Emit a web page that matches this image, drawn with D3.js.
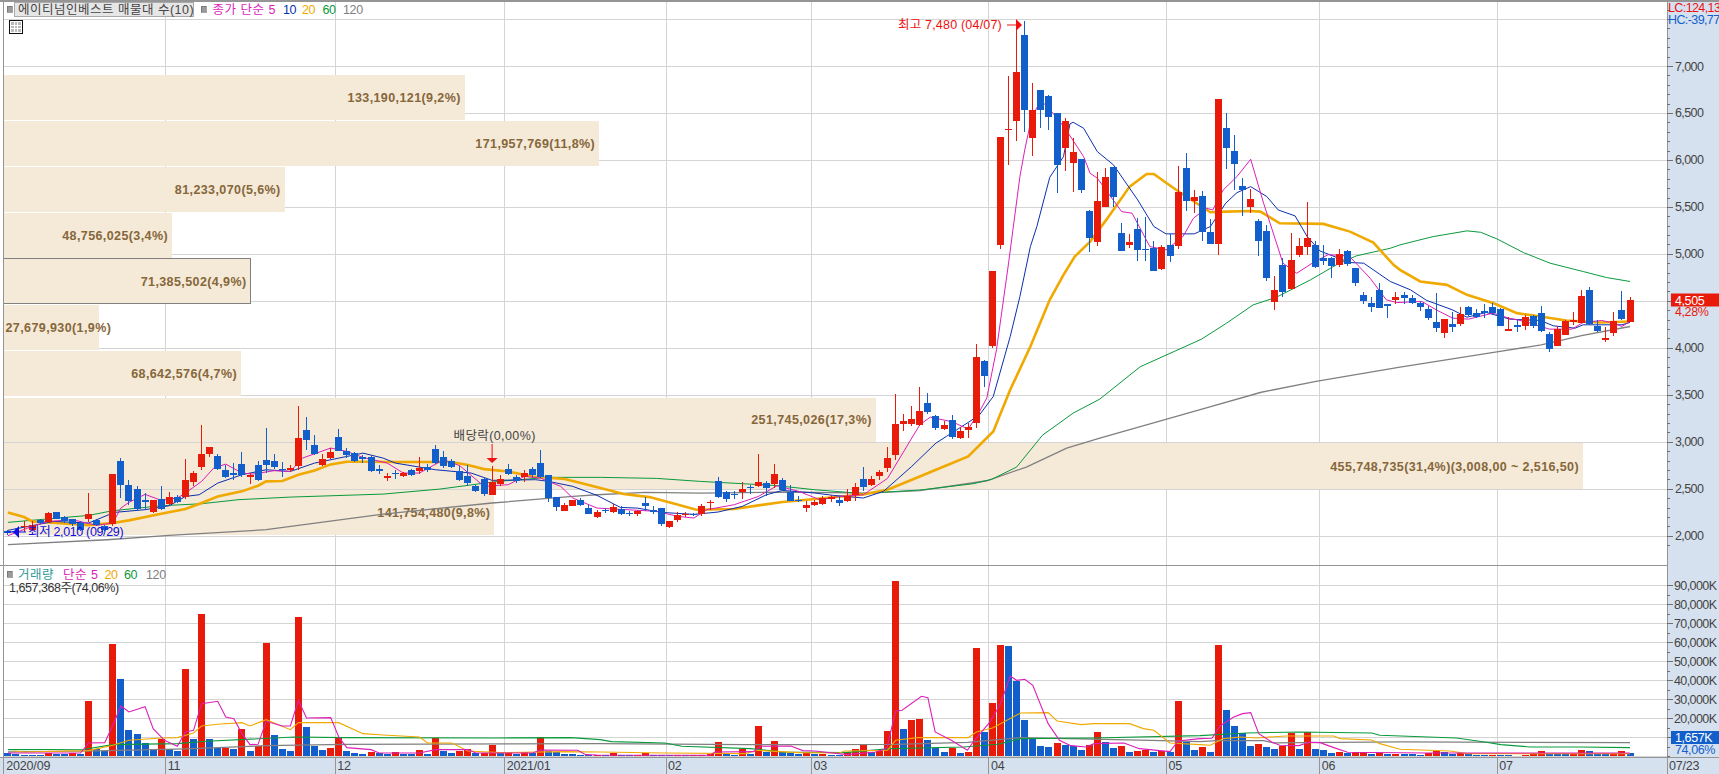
<!DOCTYPE html>
<html lang="ko"><head><meta charset="utf-8">
<style>
html,body{margin:0;padding:0;background:#fff;overflow:hidden}
svg{display:block}
text{font-family:"Liberation Sans","Noto Sans CJK KR",sans-serif;font-size:12.5px;letter-spacing:-.35px}
.tick text{fill:#444}
</style>
<script src="https://cdn.jsdelivr.net/npm/d3@7/dist/d3.min.js"></script>
</head><body><svg id="c" width="1719" height="774"></svg>
<script>
const opens=[2045,2050,2090,2065,2170,2145,2252,2199,2177,2135,2181,2170,2100,2128,2798,2543,2496,2383,2248,2394,2333,2411,2408,2567,2727,2865,2851,2702,2670,2766,2624,2755,2809,2798,2713,2695,2745,3128,2968,2755,2830,3053,2904,2880,2833,2837,2713,2613,2663,2631,2695,2684,2730,2922,2837,2798,2692,2638,2525,2603,2436,2553,2713,2624,2621,2713,2773,2649,2408,2266,2319,2383,2298,2199,2273,2248,2284,2238,2227,2351,2277,2298,2096,2163,2223,2231,2231,2344,2585,2461,2447,2461,2521,2532,2560,2553,2596,2461,2376,2298,2330,2340,2390,2383,2365,2429,2606,2543,2638,2716,2855,3184,3184,3174,3415,3277,3138,3234,3035,3121,3195,3862,4024,5096,6320,6415,7330,6237,6745,6681,6496,6131,5972,6011,5457,5131,5503,5925,5223,5096,5266,5053,5064,4840,5096,5085,5915,5564,5617,5234,5106,6340,6096,5723,5500,5351,5245,4489,4883,4628,4989,5078,5096,4957,4957,4883,5032,4851,4564,4479,4617,4468,4511,4564,4532,4479,4415,4276,4159,4255,4255,4436,4372,4394,4436,4415,4184,4245,4234,4340,4372,4149,4021,4138,4276,4266,4617,4234,4078,4159,4404,4276];
const closes=[2030,2035,2100,2115,2130,2245,2181,2152,2128,2057,2231,2110,2057,2660,2543,2365,2284,2355,2376,2284,2411,2355,2596,2670,2872,2943,2709,2621,2649,2649,2649,2596,2755,2731,2706,2723,3043,3021,2872,2819,2894,2904,2855,2791,2812,2691,2684,2638,2652,2663,2649,2723,2699,2777,2745,2727,2596,2560,2472,2443,2571,2606,2660,2578,2670,2642,2621,2401,2301,2330,2383,2326,2234,2255,2266,2309,2227,2231,2262,2319,2248,2121,2160,2223,2231,2216,2319,2362,2415,2387,2429,2500,2504,2574,2504,2660,2486,2365,2369,2330,2362,2397,2408,2351,2426,2518,2514,2606,2681,2830,3192,3223,3245,3330,3319,3149,3181,3053,3117,3160,3904,3705,4819,6245,6330,6936,6532,6532,6532,6461,5950,6415,6085,5681,5174,5564,5819,5610,5035,5128,5046,5046,4823,5074,4982,5660,5564,5606,5234,5110,6649,6128,5957,5681,5585,5138,4748,4617,4596,4936,5085,5170,4865,4929,4872,5000,4894,4695,4500,4436,4426,4447,4542,4532,4479,4436,4319,4213,4308,4223,4362,4351,4330,4375,4372,4234,4202,4223,4330,4234,4181,3989,4202,4287,4298,4553,4255,4181,4106,4287,4308,4505];
const highs=[2060,2085,2160,2155,2175,2250,2255,2213,2177,2153,2454,2177,2117,2660,2826,2596,2532,2454,2383,2532,2465,2436,2819,2684,3181,2943,2872,2755,2773,2887,2667,2791,3145,2872,2780,2755,3383,3262,3074,2872,2933,3138,2933,2887,2862,2851,2748,2667,2702,2674,2709,2837,2766,2968,2897,2816,2738,2755,2543,2613,2745,2649,2766,2649,2695,2727,2915,2649,2408,2348,2383,2401,2330,2277,2294,2340,2319,2262,2277,2408,2312,2298,2160,2248,2255,2241,2340,2383,2624,2479,2479,2574,2539,2872,2578,2766,2613,2543,2418,2372,2383,2418,2436,2418,2500,2560,2731,2631,2702,2943,3511,3298,3383,3585,3521,3287,3223,3287,3156,3199,4042,3872,4819,6245,6894,7436,7480,6815,6745,6691,6496,6443,6230,6011,5468,5869,5911,5925,5326,5213,5379,5390,5138,5096,5213,5936,6071,5681,5670,5369,6649,6500,6266,5808,5691,5372,5308,4766,4954,5223,5170,5553,5138,5096,4971,5053,5043,4851,4596,4542,4691,4468,4596,4596,4564,4500,4447,4585,4308,4383,4436,4447,4415,4468,4479,4425,4330,4298,4351,4351,4447,4170,4234,4298,4383,4617,4649,4298,4223,4383,4606,4540];
const lows=[2010,2020,2040,2045,2120,2135,2180,2135,2100,2046,2142,2100,2046,2100,2401,2330,2259,2277,2241,2277,2330,2348,2390,2532,2702,2837,2702,2614,2596,2624,2553,2578,2667,2709,2621,2674,2702,2915,2862,2745,2816,2897,2826,2780,2773,2677,2660,2578,2606,2624,2638,2660,2677,2766,2720,2720,2578,2532,2465,2426,2436,2525,2649,2560,2567,2624,2614,2358,2259,2259,2319,2312,2234,2184,2241,2241,2223,2213,2206,2259,2234,2106,2078,2142,2199,2206,2206,2277,2397,2362,2390,2390,2447,2518,2418,2504,2472,2365,2355,2248,2312,2326,2355,2312,2362,2365,2472,2525,2589,2674,2801,3110,3163,3163,3291,3121,3121,3025,3032,3043,3142,3588,4003,5053,5947,6202,6294,6046,6344,6319,5645,5883,5663,5652,5025,5085,5503,5503,5035,5067,4929,4929,4823,4830,4918,5053,5461,5440,5142,5110,4989,5904,5681,5408,5440,4979,4713,4404,4546,4628,4971,4989,4854,4883,4745,4862,4875,4660,4468,4383,4426,4319,4468,4468,4468,4394,4298,4170,4106,4170,4234,4340,4319,4319,4362,4234,4181,4170,4191,4213,4170,3957,4021,4138,4245,4266,4245,4170,4064,4128,4298,4276];
const volumes=[1750,1050,880,530,530,1580,1400,1230,1750,1230,28940,4030,2630,58930,40520,13680,11580,6840,3510,8950,4030,2630,45780,8950,74720,8950,4210,4560,3680,14210,2630,5260,59460,11050,3680,2630,73140,15260,5260,3160,4210,9470,2630,1580,1400,2100,1580,1230,2100,1230,1050,3160,1230,9650,2630,1580,2630,3680,1580,1930,5790,1580,2280,1050,2280,1580,10000,2630,2100,1050,1000,880,700,880,530,1750,700,530,700,1750,880,700,530,700,600,700,880,1050,7370,1050,880,3860,1230,15790,2280,7890,2280,1580,1050,1580,1050,1400,700,530,2100,3680,5790,2460,2810,13160,92090,14210,18940,19470,8420,4560,2280,4210,1930,2100,56830,12630,27890,58410,57880,39470,18940,9470,5260,4740,6840,5790,5610,3160,5790,12630,7370,4210,5260,2100,2630,3510,2280,2630,2280,28940,7720,3160,4740,2100,58410,24210,15790,12100,5260,6310,4740,3680,5260,12100,3680,12630,3680,3160,1580,2100,1580,2100,2190,1230,1930,1050,1400,1230,1140,700,1580,2630,2100,1230,1750,1050,880,700,880,700,530,350,700,1050,2630,1230,1140,1050,1580,3160,2980,1230,1050,1580,2630,1657];

const ma5=[[0,2000],[3,2100],[5,2152],[8,2170],[11,2110],[13,2135],[14,2294],[15,2355],[17,2440],[19,2376],[21,2401],[22,2454],[24,2578],[25.5,2720],[27,2762],[29,2667],[30.3,2656],[33,2692],[35,2684],[36.5,2826],[40,2933],[42,2897],[44,2833],[47,2773],[49,2667],[51,2667],[54,2809],[56,2745],[59,2525],[62,2543],[64,2631],[66,2613],[68.5,2525],[70,2401],[73,2294],[77.5,2273],[80.4,2259],[83,2206],[85,2188],[86.6,2277],[90,2330],[93,2418],[95.3,2532],[98,2472],[100.6,2383],[103,2418],[106,2436],[109,2610],[113,3181],[114.3,3262],[117,3213],[119,3135],[120.4,3322],[121.3,3466],[122.5,3979],[124,4904],[125.4,5822],[126,6106],[126.7,6390],[127.5,6560],[128.5,6596],[129.5,6496],[131,6337],[133.3,6035],[134.1,5858],[135,5805],[138,5450],[139.3,5433],[141.5,5078],[143.5,5042],[145.6,5184],[146.9,5379],[148.5,5486],[149.3,5468],[150.6,5681],[152.3,5823],[154,6007],[155.6,5539],[158,4901],[159.7,4794],[161.7,4905],[163.6,4992],[166.2,4977],[168.8,4741],[170.8,4511],[172.1,4482],[175.2,4493],[177,4404],[179,4316],[181,4305],[184,4369],[186,4316],[188,4280],[191,4199],[193.8,4199],[195.2,4270],[197.5,4291],[199,4262],[200,4227],[201,4280]];
const ma10=[[0,2057],[5.7,2152],[10,2135],[13.2,2248],[17,2277],[20,2319],[22,2418],[23.7,2436],[26,2560],[29,2649],[32,2702],[35,2684],[38,2773],[41,2826],[44,2879],[46.5,2826],[48,2773],[53,2702],[57.4,2667],[60,2589],[65.4,2596],[67,2578],[70,2525],[73,2429],[75.9,2301],[78,2294],[81,2248],[85,2227],[88,2252],[91,2312],[94,2436],[96,2482],[100,2454],[102.3,2429],[106,2401],[108.5,2472],[112,2738],[115,2986],[116.3,3057],[119,3206],[120.4,3287],[122.1,3482],[124.2,4120],[125.4,4546],[126.7,5078],[127.5,5291],[129.1,5815],[130.8,6035],[131.6,6383],[132,6401],[133.3,6337],[135,6088],[137,5947],[140,5574],[142,5291],[143.5,5213],[147,5213],[149,5291],[150.9,5539],[152.3,5652],[154,5716],[156,5610],[157.4,5468],[159.5,5404],[161,5184],[162.6,5030],[166.3,4908],[168,4901],[171.3,4706],[173.8,4617],[175.8,4505],[179,4404],[180.8,4326],[183.2,4376],[186.1,4305],[189.9,4291],[191.5,4234],[194.2,4209],[195.2,4245],[197.5,4245],[200,4245],[201,4270]];
const ma20=[[0,2248],[2,2199],[3,2152],[6,2135],[10,2113],[13,2135],[15,2163],[19,2234],[22,2284],[24,2348],[26,2418],[29,2472],[31,2532],[32,2578],[34,2582],[36,2649],[38,2695],[40,2759],[42,2787],[45,2787],[47,2784],[53,2784],[55,2784],[57,2752],[59,2709],[62,2684],[65,2631],[69,2603],[71,2560],[73.4,2507],[76.3,2443],[79.5,2411],[82.5,2344],[85.3,2277],[90,2284],[93,2323],[96,2358],[100,2390],[106,2440],[109,2489],[113,2631],[115,2702],[119,2844],[122.1,3110],[124.2,3553],[126.7,4014],[129.1,4511],[130.8,4776],[132.2,4972],[134.1,5131],[136.1,5362],[139,5716],[141.1,5851],[142,5851],[143.6,5752],[145.2,5656],[147.3,5539],[149,5443],[151,5450],[153.9,5457],[155.2,5450],[157.6,5326],[163,5319],[166.3,5237],[169.2,5120],[171.7,4883],[172.5,4830],[175,4706],[178.3,4670],[180.8,4564],[184.1,4475],[187,4369],[189.9,4333],[193.1,4291],[197.3,4270],[201,4280]];
const ma60=[[0,2142],[10,2216],[13,2266],[19,2319],[24,2340],[28.5,2383],[35,2411],[46.5,2443],[53.5,2496],[60.7,2578],[67,2621],[73.4,2621],[80.4,2610],[85.8,2578],[95,2535],[100,2489],[105.8,2450],[113,2486],[119.6,2553],[121.9,2600],[125,2731],[128.2,3070],[132,3305],[135.3,3454],[140.3,3798],[147.9,4092],[151,4262],[154.3,4457],[157.2,4539],[161.4,4723],[164.6,4883],[167.1,4979],[171.3,5060],[172.5,5096],[176.6,5184],[180.8,5245],[182.5,5230],[184.5,5160],[187.8,5014],[191.1,4901],[195.2,4812],[198.1,4748],[201,4706]];
const ma120=[[0,1904],[12.3,1957],[20,2004],[32,2064],[46.5,2230],[60,2348],[70,2418],[73,2436],[79,2461],[85.8,2454],[96.5,2465],[106.5,2454],[113,2479],[121.3,2585],[126.2,2731],[131.2,2933],[135.3,3039],[148.5,3362],[155.3,3527],[162.1,3642],[172.5,3794],[184.5,3957],[190,4032],[195,4131],[201,4227]];

const vma5=[[0,1750],[9,1750],[10,7020],[12,7190],[13,16310],[14,26490],[15,23330],[17,26130],[18,14560],[19.4,8420],[21,5260],[22,12800],[23,13680],[24,27710],[26,28940],[27,20700],[28,19820],[29,11930],[30,6140],[31,6310],[32,18420],[34,15960],[35,15960],[36,29470],[37,20170],[40,20350],[41,10170],[42,4560],[45,3510],[46,1750],[51,1750],[53,3510],[57,3510],[58,1750],[65,1750],[66,3330],[70.6,3160],[71.6,880],[73,700],[87,530],[87.6,2280],[92.4,2460],[93.3,5260],[97,5440],[98.5,2980],[100,2810],[104,880],[107.5,2280],[108.9,4030],[110,23850],[110.8,24200],[113.2,31570],[114,30870],[114.9,12800],[116.9,8420],[118.9,3160],[119.6,7540],[121.7,18070],[123,27710],[124.2,42270],[125,39990],[126,40520],[127,37360],[128.9,17190],[130.3,8420],[131.7,5610],[133.6,4910],[134.6,6670],[138.3,7020],[140.2,4030],[144,2460],[145,8070],[147.7,9300],[149.2,9470],[150.2,15960],[151.9,20700],[153,22450],[154,22980],[155,11930],[156.6,7540],[157.6,5790],[160,5610],[161.2,7370],[162.6,7190],[164.3,4560],[166,2100],[175.8,1750],[201,1750]];
const vma20=[[0.7,2810],[2,2280],[10,2980],[13,5790],[15,8420],[19,9650],[21,9820],[23,12280],[24,15960],[26,16840],[29,17720],[30,15960],[32,19290],[35,14030],[36,17720],[41,17720],[44,11930],[46.5,11230],[51,10170],[52,7020],[55,7020],[57,2810],[61,1930],[69,2460],[73.4,2280],[81.4,1750],[91.4,1400],[92.8,3160],[98,1930],[103,1750],[103.7,2810],[109,3160],[110,8420],[112.7,9820],[119,9820],[120,12800],[122,14910],[125.5,22800],[128.9,22980],[130,18590],[133,16660],[134.6,17190],[139,17190],[140.7,14560],[142,13680],[144,7020],[147.7,6140],[149,5790],[150.6,9300],[152.7,10170],[154.7,9650],[158.4,10700],[164.3,10700],[165.1,9300],[169,8600],[170,6670],[172.5,3680],[178.7,2810],[180.8,1400],[201,1400]];
const vma60=[[0,3510],[9.5,3680],[13,6140],[21,6670],[24.6,7890],[35.5,10170],[41.7,9820],[60.7,9650],[69.7,9820],[73.4,8770],[74.8,7720],[81.4,7020],[83.5,5260],[92,4030],[96,2280],[103.7,1930],[109.4,4030],[118.4,4910],[122.7,6310],[125.5,9300],[134.5,9650],[147.7,10870],[153.5,12280],[160,12800],[169,12280],[170,11050],[179.5,9650],[183,7540],[185,6140],[188.6,4910],[194.8,4910],[201,4560]];
const vma120=[[0,2280],[11,2810],[22,3860],[32,5610],[41.7,6310],[73.4,6670],[91.4,6140],[98.5,6140],[110,6310],[118.9,7370],[125.5,9820],[141.6,8420],[147.7,7720],[149.8,8240],[155.6,8240],[156.8,7020],[172.5,7540],[201,7190]];

const bandVolumes=[133190121,171957769,81233070,48756025,71385502,27679930,68642576,251745026,455748735,141754480];
const bandLabels=["133,190,121(9,2%)","171,957,769(11,8%)","81,233,070(5,6%)","48,756,025(3,4%)","71,385,502(4,9%)","27,679,930(1,9%)","68,642,576(4,7%)","251,745,026(17,3%)","455,748,735(31,4%)(3,008,00 ~ 2,516,50)","141,754,480(9,8%)"];
const bandHigh=[6904,6415,5926,5437,4947,4458,3969,3470,2982,2489];
const bandLow=[6425,5936,5447,4957,4468,3979,3489,3000,2500,2005];
const highlightBand=4;
const priceTicks=[2000,2500,3000,3500,4000,5000,5500,6000,6500,7000];
const priceGrid=priceTicks.concat([4500,7500]);
const volumeTicks=[10000,20000,30000,40000,50000,60000,70000,80000,90000];
const monthIndex=[0,20,41,62,82,100,122,144,163,185];
const monthLabels=["2020/09","11","12","2021/01","02","03","04","05","06","07"];

const RED="#e81a0a",BLUE="#125fcc",PINK="#dc1fb8",NAVY="#0b2fb0",ORANGE="#f0a900",GREEN="#0a9a3c",GREY="#808080",AXBG="#d6e1ef",GRID="#d4d4d4",FRAME="#959595",BROWN="#85673a",TEAL="#2f9a9a";
const L=3,R=1667,W=1719,H=774,SEP=565,BOT=757;

const svg=d3.select("#c");
const x=d3.scaleLinear().domain([0,201]).range([7.9,1630]);
const y=d3.scaleLinear().domain([2000,7000]).range([535.7,66]);
const yv=d3.scaleLinear().domain([0,90000]).range([756.3,585.3]);
const xb=d3.scaleLinear().domain([0,455748735]).range([L,1583]);
const step=x(1)-x(0);
const slot=i=>Math.round(x(i)-step/2);
const defs=svg.append("defs");
defs.append("clipPath").attr("id","pp").append("rect").attr("x",L).attr("y",0).attr("width",R-L).attr("height",SEP);
defs.append("clipPath").attr("id","vp").append("rect").attr("x",L).attr("y",SEP).attr("width",R-L).attr("height",BOT-SEP);

svg.append("rect").attr("x",R).attr("y",0).attr("width",W-R).attr("height",H).attr("fill",AXBG);
svg.append("rect").attr("x",0).attr("y",BOT).attr("width",W).attr("height",H-BOT).attr("fill",AXBG);

const grid=svg.append("g").attr("shape-rendering","crispEdges").attr("stroke",GRID);
grid.selectAll(".h").data(priceGrid).join("line").attr("x1",L).attr("x2",R).attr("y1",d=>Math.round(y(d))).attr("y2",d=>Math.round(y(d)));
grid.selectAll(".hv").data(volumeTicks.concat([0])).join("line").attr("x1",L).attr("x2",R).attr("y1",d=>Math.round(yv(d))).attr("y2",d=>Math.round(yv(d)));
grid.selectAll(".v").data(monthIndex.slice(1)).join("line").attr("x1",slot).attr("x2",slot).attr("y1",0).attr("y2",BOT);

// volume-profile bands
const bands=svg.append("g").attr("clip-path","url(#pp)");
bands.selectAll("rect").data(bandVolumes).join("rect").attr("shape-rendering","crispEdges")
 .attr("x",L).attr("width",d=>xb(d)-L).attr("y",(d,i)=>y(bandHigh[i])).attr("height",(d,i)=>y(bandLow[i])-y(bandHigh[i]))
 .attr("fill","#f5e9d8").attr("stroke",(d,i)=>i===highlightBand?"#808080":"none");
bands.selectAll("text").data(bandVolumes).join("text").text((d,i)=>bandLabels[i])
 .attr("x",d=>xb(d)-4).attr("y",(d,i)=>(y(bandHigh[i])+y(bandLow[i]))/2+4.5)
 .attr("text-anchor","end").attr("fill",BROWN).attr("font-weight","bold").style("font-size","12.5px").style("letter-spacing",".4px")
 .each(function(d){ if(xb(d)-4-this.getComputedTextLength()<L+2){d3.select(this).attr("text-anchor","start").attr("x",L+2.5);} });

// moving averages
const lineGen=(sy)=>d3.line().x(d=>x(d[0])).y(d=>sy(d[1]));
const pm=svg.append("g").attr("clip-path","url(#pp)").attr("fill","none");
[[ma120,GREY,1.3],[ma60,GREEN,1],[ma20,ORANGE,2.6],[ma10,NAVY,1],[ma5,PINK,1]].forEach(([d,c,w])=>pm.append("path").attr("d",lineGen(y)(d)).attr("stroke",c).attr("stroke-width",w));

// candles
const cg=svg.append("g").attr("clip-path","url(#pp)").attr("shape-rendering","crispEdges");
const col=i=>closes[i]>=opens[i]?RED:BLUE;
const idx=d3.range(opens.length);
cg.selectAll(".w").data(idx).join("rect").attr("x",i=>Math.round(x(i)-.5)).attr("width",1).attr("y",i=>y(highs[i])).attr("height",i=>y(lows[i])-y(highs[i])).attr("fill",col);
cg.selectAll(".b").data(idx).join("rect").attr("x",i=>Math.round(x(i)-3.5)).attr("width",7).attr("y",i=>y(Math.max(opens[i],closes[i]))).attr("height",i=>Math.max(1,Math.abs(y(opens[i])-y(closes[i])))).attr("fill",col);

// volume bars (red when volume rises from the previous session)
const vg=svg.append("g").attr("clip-path","url(#vp)").attr("shape-rendering","crispEdges");
vg.selectAll("rect").data(volumes).join("rect").attr("x",(d,i)=>Math.round(x(i)-3.5)).attr("width",7).attr("y",d=>yv(d)).attr("height",d=>yv(0)-yv(d))
 .attr("fill",(d,i)=>i>0&&d>volumes[i-1]?RED:BLUE);
const vm=svg.append("g").attr("clip-path","url(#vp)").attr("fill","none");
[[vma120,GREY,1.2],[vma60,GREEN,1.1],[vma20,ORANGE,1.1],[vma5,PINK,1.1]].forEach(([d,c,w])=>vm.append("path").attr("d",lineGen(yv)(d)).attr("stroke",c).attr("stroke-width",w));

// frame
const fr=svg.append("g").attr("shape-rendering","crispEdges").attr("stroke",FRAME);
[[L,0,L,H],[0,0,W,0],[0,SEP,R,SEP],[0,BOT,W,BOT],[R,0,R,H]].forEach(a=>fr.append("line").attr("x1",a[0]).attr("y1",a[1]).attr("x2",a[2]).attr("y2",a[3]));
fr.selectAll(".m").data(monthIndex.slice(1)).join("line").attr("x1",slot).attr("x2",slot).attr("y1",BOT).attr("y2",H);
fr.append("line").attr("x1",0).attr("y1",1).attr("x2",W).attr("y2",1);

// axes
function styleAxis(g){g.select(".domain").remove();g.selectAll(".tick line").attr("stroke","#707070").attr("shape-rendering","crispEdges");g.selectAll(".tick text").attr("fill","#444").style("font-size","12.5px").style("letter-spacing","-.6px");}
svg.append("g").attr("transform",`translate(${R},0)`).call(d3.axisRight(y).tickValues(d3.range(1900,7700,100)).tickSize(3).tickFormat("")).call(styleAxis);
svg.append("g").attr("transform",`translate(${R},0)`).call(d3.axisRight(y).tickValues(priceGrid).tickSize(6).tickPadding(2).tickFormat(d=>d===4500||d===7500?"":d3.format(",")(d))).call(styleAxis);
svg.append("g").attr("transform",`translate(${R},0)`).call(d3.axisRight(yv).tickValues(d3.range(0,95000,5000)).tickSize(3).tickFormat("")).call(styleAxis);
svg.append("g").attr("transform",`translate(${R},0)`).call(d3.axisRight(yv).tickValues(volumeTicks).tickSize(6).tickPadding(1).tickFormat(d=>d3.format(",")(d)+"K")).call(styleAxis);
svg.append("g").attr("transform",`translate(0,${BOT})`).call(d3.axisBottom(d3.scaleLinear().domain([0,201]).range([x(0)-step/2,x(201)-step/2])).tickValues(monthIndex).tickSize(0).tickPadding(0).tickFormat((d,i)=>monthLabels[i])).call(g=>{styleAxis(g);g.selectAll(".tick text").attr("text-anchor","start").attr("dx",2).attr("dy",0).attr("y",13).style("letter-spacing","-.2px");});

function T(s,xp,yp,c,o={}){const t=svg.append("text").text(s).attr("x",xp).attr("y",yp).attr("fill",c).attr("text-anchor",o.a||"start").style("font-size",(o.s||12.5)+"px");if(o.ls!==undefined)t.style("letter-spacing",o.ls+"px");return t;}
T("07/23",1669,770,"#444",{ls:-.2});

// right-side labels
T("LC:124,13",1668,12,"#f01010",{ls:-.6});
T("HC:-39,77",1668,24,BLUE,{ls:-.6});
svg.append("rect").attr("x",1671).attr("y",293.5).attr("width",48).attr("height",13).attr("fill",RED);
T(d3.format(",")(closes[201]),1675,304.5,"#fff",{ls:-.4});
T("4,28%",1675,316,RED,{ls:-.4});
svg.append("rect").attr("x",1671).attr("y",731).attr("width",48).attr("height",13).attr("fill",BLUE);
T("1,657K",1675,742,"#fff",{ls:-.4});
T("74,06%",1675,754,BLUE,{ls:-.4});

// header legends
function sq(xp,yp){svg.append("rect").attr("x",xp).attr("y",yp).attr("width",5).attr("height",6).attr("fill","#9a9a9a").attr("stroke","#666").attr("stroke-width",.6).attr("shape-rendering","crispEdges");}
sq(7,6);
svg.append("rect").attr("x",14.5).attr("y",2.5).attr("width",179).attr("height",14).attr("fill","#e6e6e6").attr("stroke","#aaa").attr("shape-rendering","crispEdges");
T("에이티넘인베스트 매물대 수(10)",18,14,"#444",{ls:.5});
sq(201,6);
T("종가 단순 5",212.5,14,PINK,{ls:.5}); T("10",283,14,NAVY); T("20",302,14,ORANGE); T("60",322.5,14,GREEN); T("120",343,14,GREY);
// table icon
const ic=svg.append("g").attr("shape-rendering","crispEdges");
ic.append("rect").attr("x",9.5).attr("y",20.5).attr("width",13).attr("height",13).attr("fill","#fff").attr("stroke","#111");
ic.append("rect").attr("x",11).attr("y",22).attr("width",10).attr("height",10).attr("fill","#bbb");
[14,17.5].forEach(a=>ic.append("line").attr("x1",a).attr("x2",a).attr("y1",22).attr("y2",32).attr("stroke","#fff"));
[25,28].forEach(a=>ic.append("line").attr("y1",a).attr("y2",a).attr("x1",11).attr("x2",21).attr("stroke","#fff"));
sq(7,571);
T("거래량",18,579,TEAL,{ls:.5}); T("단순 5",63,579,PINK,{ls:.5}); T("20",104.5,579,ORANGE); T("60",124,579,GREEN); T("120",146,579,GREY);
T("1,657,368주(74,06%)",9,592,"#333",{ls:-.45});

// annotations
T("최고 7,480 (04/07)",1002,29,"#f01010",{a:"end",ls:.2});
svg.append("line").attr("x1",1007).attr("x2",1017).attr("y1",25).attr("y2",25).attr("stroke","#f01010");
svg.append("path").attr("d","M1016,19L1022,25L1016,31Z").attr("fill","#f01010");
T("배당락(0,00%)",453.5,440,"#444",{ls:.4});
svg.append("line").attr("x1",x(60)).attr("x2",x(60)).attr("y1",444).attr("y2",458).attr("stroke","#f01010");
svg.append("path").attr("d",`M${x(60)-5.5},458H${x(60)+5.5}L${x(60)},463Z`).attr("fill","#f01010");
svg.append("line").attr("x1",6).attr("x2",26).attr("y1",532).attr("y2",532).attr("stroke","#1010e0");
svg.append("path").attr("d","M13,532L19,526V538Z").attr("fill","#1010e0");
T("최저 2,010 (09/29)",28,536,"#1010e0");
</script></body></html>
